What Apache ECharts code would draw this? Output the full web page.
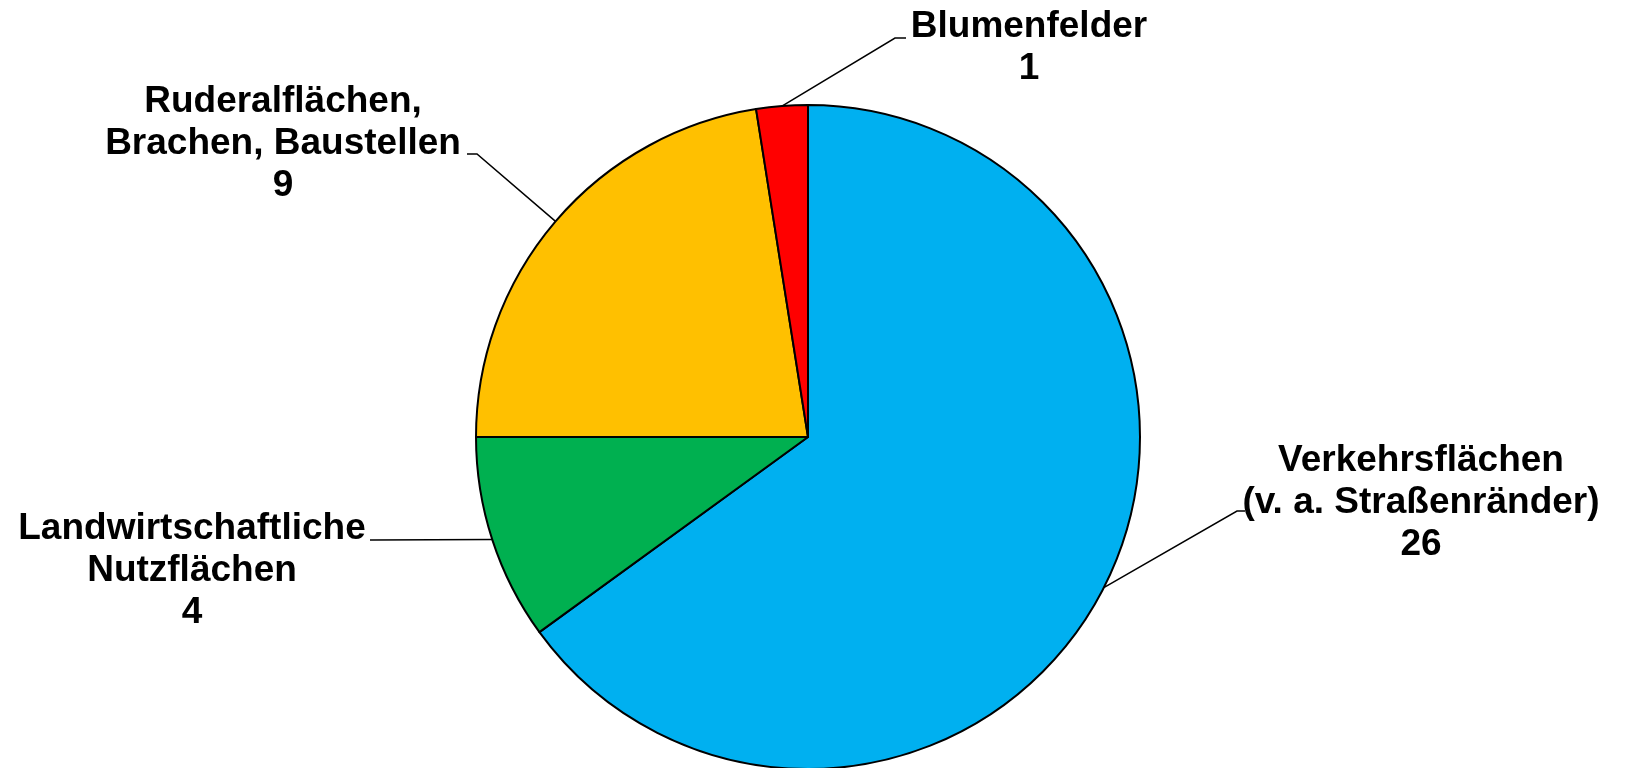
<!DOCTYPE html>
<html>
<head>
<meta charset="utf-8">
<script src="https://cdn.jsdelivr.net/npm/echarts@6/dist/echarts.min.js"></script>
<style>
  html, body { margin: 0; padding: 0; background: #fff; }
  #chart { width: 1650px; height: 768px; }
</style>
</head>
<body>
<div id="chart"></div>
<script>
// data
const categories = [
  'Verkehrsflächen\n(v. a. Straßenränder)',
  'Landwirtschaftliche\nNutzflächen',
  'Ruderalflächen,\nBrachen, Baustellen',
  'Blumenfelder'
];
const counts = [26, 4, 9, 1];
const sliceColors = ['#00B0F0', '#00B050', '#FFC000', '#FF0000'];

// where the labels sit (Excel-like manual placement)
const labelPos = [
  { x: 1421, y: 503, elbow: [1237, 511], end: [1245, 511] },
  { x: 192, y: 571, elbow: [372, 540], end: [370, 540] },
  { x: 283, y: 144, elbow: [477, 154], end: [467, 154] },
  { x: 1029, y: 48, elbow: [895, 38], end: [906, 38] }
];

const chart = echarts.init(document.getElementById('chart'));

const option = {
  animation: false,
  series: [{
    type: 'pie',
    center: [808, 437],
    radius: 332,
    startAngle: 90,
    clockwise: true,
    silent: true,
    data: categories.map((name, i) => ({
      name: name,
      value: counts[i],
      itemStyle: { color: sliceColors[i] }
    })),
    itemStyle: {
      borderColor: '#000',
      borderWidth: 2
    },
    label: {
      show: true,
      position: 'outside',
      formatter: '{b}\n{c}',
      color: '#000',
      fontFamily: 'Liberation Sans, Arial, sans-serif',
      fontWeight: 'bold',
      fontSize: 37,
      lineHeight: 42,
      align: 'center'
    },
    labelLine: {
      show: true,
      smooth: false,
      lineStyle: { color: '#000', width: 1.5 }
    },
    labelLayout: function (params) {
      const p = labelPos[params.dataIndex];
      const start = params.labelLinePoints[0];
      return {
        x: p.x,
        y: p.y,
        align: 'center',
        verticalAlign: 'middle',
        labelLinePoints: [start, p.elbow, p.end]
      };
    },
    emphasis: { disabled: true }
  }]
};

chart.setOption(option);
</script>
</body>
</html>
